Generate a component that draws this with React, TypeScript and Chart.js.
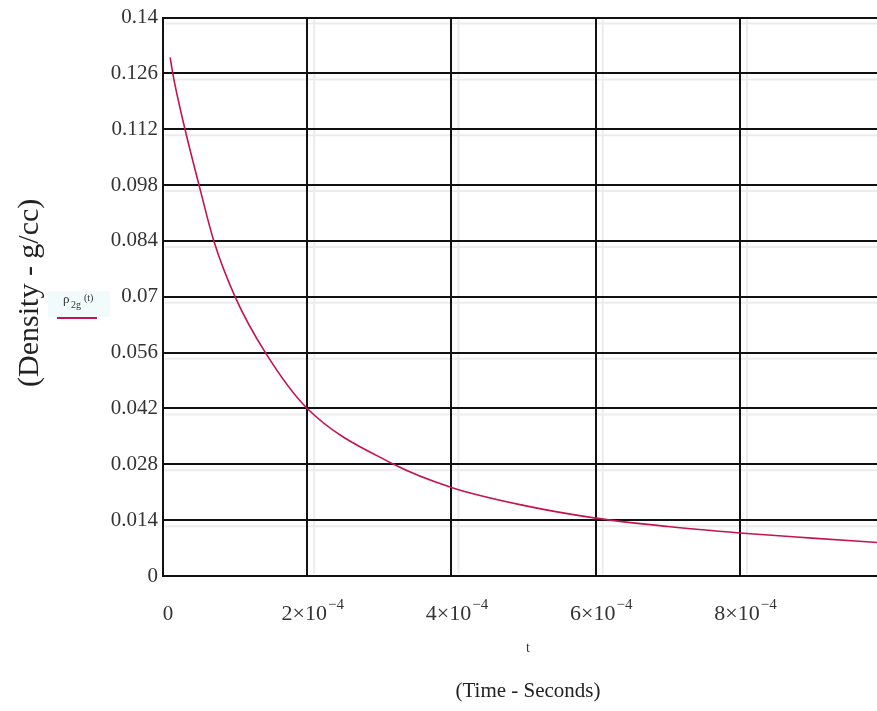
import React, { useEffect, useRef } from 'react';
import { Chart, registerables } from 'chart.js';

Chart.register(...registerables);

// Gas density over time
const timeSec = [
  1.0e-5, 1.35e-5, 3.05e-5, 5.0e-5, 7.05e-5, 1.0e-4, 1.42e-4, 2.0e-4,
  3.2e-4, 4.0e-4, 5.0e-4, 6.0e-4, 7.0e-4, 8.0e-4, 9.0e-4, 9.9e-4,
];
const densityGcc = [
  0.13, 0.126, 0.112, 0.098, 0.084, 0.07, 0.056, 0.042,
  0.028, 0.0222, 0.0177, 0.0145, 0.0124, 0.0108, 0.0095, 0.0084,
];

const yTickValues = [0, 0.014, 0.028, 0.042, 0.056, 0.07, 0.084, 0.098, 0.112, 0.126, 0.14];
const yTickLabels = ['0', '0.014', '0.028', '0.042', '0.056', '0.07', '0.084', '0.098', '0.112', '0.126', '0.14'];
const xTickValues = [0, 2e-4, 4e-4, 6e-4, 8e-4];
const xTickMantissas = ['0', '2', '4', '6', '8'];
const xTickExponent = '\u22124';

const xMin = 0;
const xMax = 9.9e-4;
const yMin = 0;
const yMax = 0.14;

const yTitle = '(Density - g/cc)';
const xVarName = 't';
const xTitle = '(Time - Seconds)';

const SERIF = '"Liberation Serif", "Times New Roman", serif';
const CURVE = '#c4144c';

const annotations = {
  id: 'mathcadText',
  beforeDraw(chart: any) {
    const { ctx, scales } = chart;
    const xs = scales.x;
    const ys = scales.y;
    const area = chart.chartArea;
    if (!xs || !ys || !area) return;
    // faint shadow lines next to each grid line, painted underneath the grid
    ctx.save();
    ctx.strokeStyle = '#ececec';
    ctx.lineWidth = 2;
    for (const v of yTickValues) {
      if (v === yMin) continue;
      const py = ys.getPixelForValue(v) + 6;
      ctx.beginPath();
      ctx.moveTo(area.left + 2, py);
      ctx.lineTo(area.right, py);
      ctx.stroke();
    }
    for (const v of xTickValues) {
      if (v === xMin) continue;
      const px = xs.getPixelForValue(v) + 7;
      ctx.beginPath();
      ctx.moveTo(px, area.top + 2);
      ctx.lineTo(px, area.bottom - 2);
      ctx.stroke();
    }
    ctx.restore();
  },
  afterDraw(chart: any) {
    const { ctx, scales } = chart;
    const xs = scales.x;
    const area = chart.chartArea;
    ctx.save();

    // x tick labels written as mantissa × 10^exponent
    ctx.fillStyle = '#333';
    ctx.textBaseline = 'alphabetic';
    xTickValues.forEach((v, i) => {
      const px = xs.getPixelForValue(v);
      const m = xTickMantissas[i];
      if (v === 0) {
        ctx.font = `21px ${SERIF}`;
        ctx.textAlign = 'center';
        ctx.fillText(m, px + 5, 620);
        return;
      }
      ctx.font = `22px ${SERIF}`;
      const base = `${m}\u00d710`;
      const wb = ctx.measureText(base).width;
      ctx.font = `15px ${SERIF}`;
      const we = ctx.measureText(xTickExponent).width;
      const left = px + 5 - (wb + we) / 2;
      ctx.textAlign = 'left';
      ctx.font = `22px ${SERIF}`;
      ctx.fillText(base, left, 620);
      ctx.font = `15px ${SERIF}`;
      ctx.fillText(xTickExponent, left + wb + 1, 609);
    });

    // axis variable and axis title below the plot
    const cx = (area.left + area.right) / 2 + 8;
    ctx.textAlign = 'center';
    ctx.fillStyle = '#333';
    ctx.font = `14px ${SERIF}`;
    ctx.fillText(xVarName, cx, 652);
    ctx.fillStyle = '#222';
    ctx.font = `21px ${SERIF}`;
    ctx.fillText(xTitle, cx, 697);

    // rotated y title
    ctx.save();
    ctx.translate(30, (area.top + area.bottom) / 2 - 4);
    ctx.rotate(-Math.PI / 2);
    ctx.font = `30px ${SERIF}`;
    ctx.textAlign = 'center';
    ctx.textBaseline = 'middle';
    ctx.fillText(yTitle, 0, 0);
    ctx.restore();

    // trace label ρ2g(t) with its line sample
    ctx.fillStyle = '#f1fbfb';
    ctx.fillRect(48, 291, 62, 26);
    ctx.fillStyle = '#333';
    ctx.textAlign = 'left';
    ctx.textBaseline = 'alphabetic';
    ctx.font = `13px ${SERIF}`;
    ctx.fillText('\u03c1', 63, 303);
    ctx.font = `10px ${SERIF}`;
    ctx.fillText('2g', 71, 308);
    ctx.font = `10px ${SERIF}`;
    ctx.fillText('(t)', 84, 301);
    ctx.strokeStyle = CURVE;
    ctx.lineWidth = 2;
    ctx.beginPath();
    ctx.moveTo(57, 318);
    ctx.lineTo(97, 318);
    ctx.stroke();

    ctx.restore();
  },
};

export default function App() {
  const canvasRef = useRef<HTMLCanvasElement | null>(null);

  useEffect(() => {
    const canvas = canvasRef.current;
    if (!canvas) return;
    const points = timeSec.map((t, i) => ({ x: t, y: densityGcc[i] }));
    const chart = new Chart(canvas, {
      type: 'line',
      data: {
        datasets: [
          {
            data: points,
            borderColor: CURVE,
            borderWidth: 1.6,
            pointRadius: 0,
            fill: false,
            cubicInterpolationMode: 'monotone',
          },
        ],
      },
      options: {
        animation: false,
        responsive: true,
        maintainAspectRatio: false,
        layout: { padding: { top: 16, left: 0, right: 0, bottom: 0 } },
        plugins: {
          legend: { display: false },
          tooltip: { enabled: false },
        },
        scales: {
          x: {
            type: 'linear',
            min: xMin,
            max: xMax,
            afterBuildTicks: (s: any) => {
              s.ticks = xTickValues.map((v) => ({ value: v }));
            },
            afterFit: (s: any) => {
              s.height = 135;
            },
            ticks: { display: false },
            grid: { color: '#111', lineWidth: 2, drawTicks: false },
            border: { display: true, color: '#111', width: 2 },
          },
          y: {
            type: 'linear',
            min: yMin,
            max: yMax,
            afterBuildTicks: (s: any) => {
              s.ticks = yTickValues.map((v) => ({ value: v }));
            },
            afterFit: (s: any) => {
              s.width = 163;
            },
            ticks: {
              padding: 5,
              color: '#333',
              font: { family: SERIF, size: 21 },
              callback: (_v: any, i: number) => yTickLabels[i],
            },
            grid: { color: '#111', lineWidth: 2, drawTicks: false },
            border: { display: true, color: '#111', width: 2 },
          },
        },
      },
      plugins: [annotations],
    });
    return () => chart.destroy();
  }, []);

  return (
    <div style={{ position: 'absolute', left: 0, top: 0, width: 877, height: 711, background: '#fff' }}>
      <canvas ref={canvasRef} />
    </div>
  );
}
